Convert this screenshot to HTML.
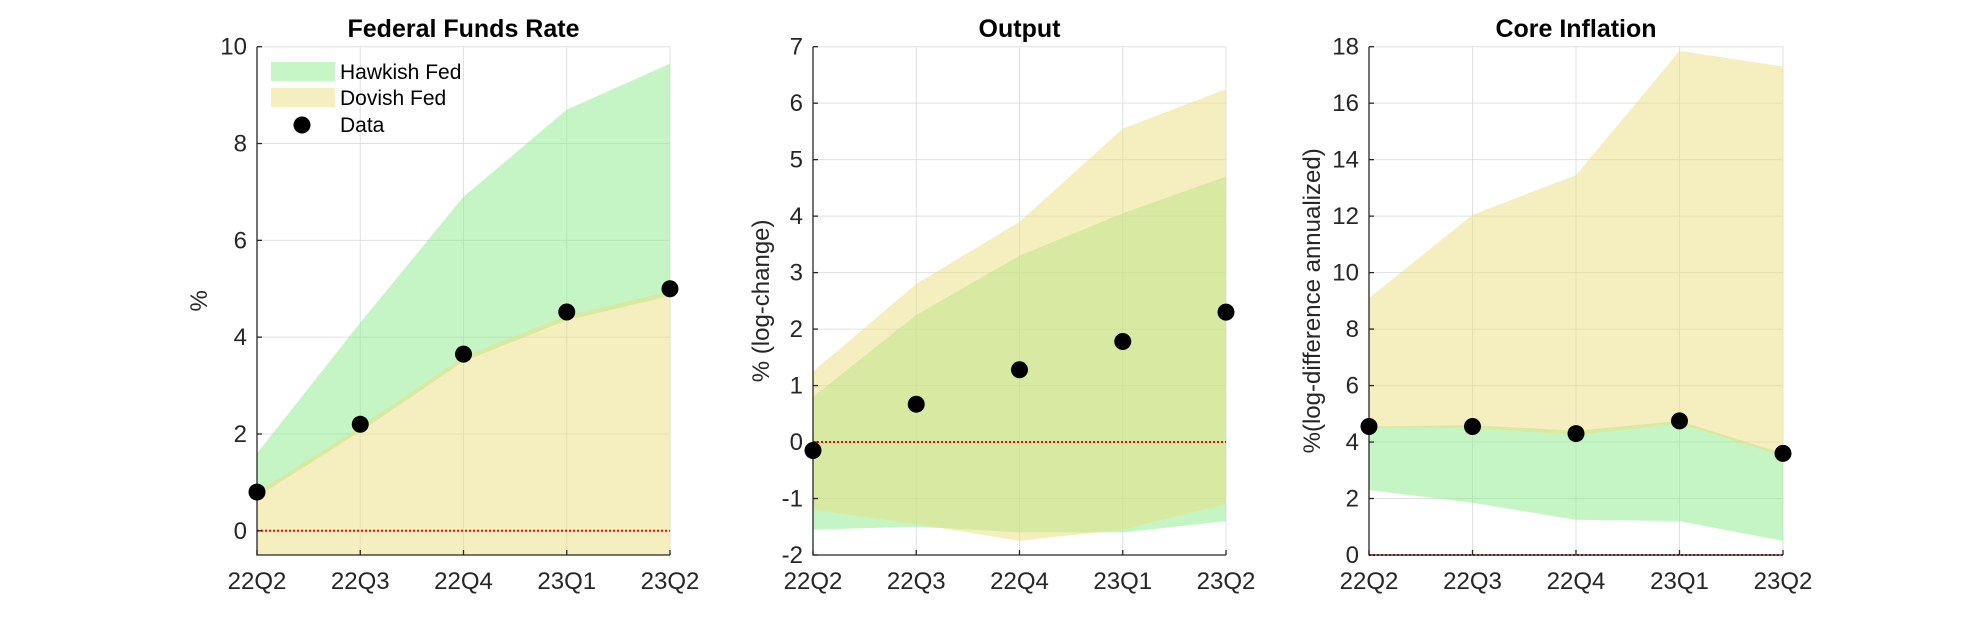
<!DOCTYPE html>
<html><head><meta charset="utf-8"><style>
body{margin:0;background:#fff;}
svg{display:block;font-family:"Liberation Sans",sans-serif;}
</style></head><body>
<svg id="c" width="1979" height="625" xmlns="http://www.w3.org/2000/svg"></svg>
<script>
const categories = ["22Q2","22Q3","22Q4","23Q1","23Q2"];
// Federal Funds Rate
const ffrHawkUpper = [1.6,4.3,6.9,8.7,9.65];
const ffrHawkLower = [0.7,2.05,3.5,4.35,4.85];
const ffrDovUpper = [0.8,2.15,3.6,4.45,4.95];
const ffrDovLower = [-1,-1,-1,-1,-1];
const ffrData = [0.8,2.2,3.65,4.52,5.0];
const ffrTicks = [0,2,4,6,8,10];
// Output
const outHawkUpper = [0.8,2.25,3.3,4.05,4.7];
const outHawkLower = [-1.55,-1.5,-1.6,-1.6,-1.4];
const outDovUpper = [1.25,2.8,3.9,5.55,6.25];
const outDovLower = [-1.2,-1.45,-1.75,-1.55,-1.1];
const outData = [-0.15,0.67,1.28,1.78,2.3];
const outTicks = [-2,-1,0,1,2,3,4,5,6,7];
// Core Inflation
const infHawkUpper = [4.55,4.6,4.4,4.75,3.6];
const infHawkLower = [2.3,1.85,1.25,1.2,0.5];
const infDovUpper = [9.1,12.05,13.45,17.85,17.3];
const infDovLower = [4.5,4.5,4.25,4.65,3.5];
const infData = [4.55,4.55,4.3,4.75,3.6];
const infTicks = [0,2,4,6,8,10,12,14,16,18];

const NS="http://www.w3.org/2000/svg";
const svg=document.getElementById('c');
function mk(tag,attrs,parent){const e=document.createElementNS(NS,tag);for(const k in attrs)e.setAttribute(k,attrs[k]);(parent||svg).appendChild(e);return e;}

function panel(o){
  const g=mk('g',{});
  
  
  const top=46.7,bot=555;
  const sx=i=>o.x0+(o.x1-o.x0)*i/(categories.length-1);
  const sy=v=>bot-(v-o.ymin)/(o.ymax-o.ymin)*(bot-top);
  const clip='cl'+o.name;
  const cp=mk('clipPath',{id:clip},g);mk('rect',{x:o.x0,y:top,width:o.x1-o.x0,height:bot-top},cp);
  o.ticks.forEach(t=>{const l=mk('line',{x1:o.x0,x2:o.x1,y1:sy(t),y2:sy(t),stroke:'#e0e0e0','stroke-width':1},g);
    });
  categories.forEach((c,i)=>{const l=mk('line',{x1:sx(i),x2:sx(i),y1:top,y2:bot,stroke:'#e0e0e0','stroke-width':1},g);
    });
  const band=(up,lo,fill,nm)=>{
    let pts=up.map((v,i)=>sx(i)+','+sy(v));
    for(let i=lo.length-1;i>=0;i--)pts.push(sx(i)+','+sy(lo[i]));
    const p=mk('polygon',{points:pts.join(' '),fill:fill,'fill-opacity':0.5,'clip-path':'url(#'+clip+')'},g);
    
  };
  band(o.hu,o.hl,'#8ceb8c','hawkish-band');
  band(o.du,o.dl,'#ebdf7f','dovish-band');
  const z=mk('line',{x1:o.x0,x2:o.x1,y1:sy(0),y2:sy(0),stroke:'#ff0000','stroke-width':2,'stroke-dasharray':'2,2'},g);
  
  const ax=mk('path',{d:`M${o.x0},${top}V${bot}H${o.x1}`,stroke:'#262626','stroke-width':1.3,fill:'none'},g);
  
  o.ticks.forEach(t=>{mk('line',{x1:o.x0,x2:o.x0+5,y1:sy(t),y2:sy(t),stroke:'#262626','stroke-width':1.3},g);
    const tx=mk('text',{x:o.x0-10,y:sy(t)+8,'text-anchor':'end','font-size':24,fill:'#262626'},g);tx.textContent=t;
    });
  categories.forEach((c,i)=>{mk('line',{x1:sx(i),x2:sx(i),y1:bot,y2:bot-5,stroke:'#262626','stroke-width':1.3},g);
    const tx=mk('text',{x:sx(i),y:589,'text-anchor':'middle','font-size':24,fill:'#262626'},g);tx.textContent=c;
    });
  o.data.forEach((v,i)=>{const d=mk('circle',{cx:sx(i),cy:sy(v),r:8.5,fill:'#000'},g);
    });
  const ti=mk('text',{x:(o.x0+o.x1)/2,y:37,'text-anchor':'middle','font-size':25,'font-weight':'bold',fill:'#000'},g);ti.textContent=o.title;
  
  const yl=mk('text',{x:0,y:0,'text-anchor':'middle','font-size':24,fill:'#262626',transform:`translate(${o.ylx},${(top+bot)/2}) rotate(-90)`},g);yl.textContent=o.ylabel;
  
}
panel({name:'ffr-panel',x0:257,x1:670,ymin:-0.5,ymax:10,ticks:ffrTicks,hu:ffrHawkUpper,hl:ffrHawkLower,du:ffrDovUpper,dl:ffrDovLower,data:ffrData,title:'Federal Funds Rate',ylabel:'%',ylx:207});
panel({name:'output-panel',x0:813,x1:1226,ymin:-2,ymax:7,ticks:outTicks,hu:outHawkUpper,hl:outHawkLower,du:outDovUpper,dl:outDovLower,data:outData,title:'Output',ylabel:'% (log-change)',ylx:769});
panel({name:'inflation-panel',x0:1369,x1:1783,ymin:0,ymax:18,ticks:infTicks,hu:infHawkUpper,hl:infHawkLower,du:infDovUpper,dl:infDovLower,data:infData,title:'Core Inflation',ylabel:'%(log-difference annualized)',ylx:1320});
</script>
<svg style="position:absolute;left:0;top:0" width="500" height="150">
  <rect x="271" y="62" width="64" height="19" fill="#c6f5c6"/>
  <text x="340" y="79" font-family="Liberation Sans, sans-serif" font-size="21" fill="#000">Hawkish Fed</text>
  <rect x="271" y="88" width="64" height="19" fill="#f5efbf"/>
  <text x="340" y="105" font-family="Liberation Sans, sans-serif" font-size="21" fill="#000">Dovish Fed</text>
  <circle cx="302" cy="125" r="8.5" fill="#000"/>
  <text x="340" y="132" font-family="Liberation Sans, sans-serif" font-size="21" fill="#000">Data</text>
</svg>
</body></html>
